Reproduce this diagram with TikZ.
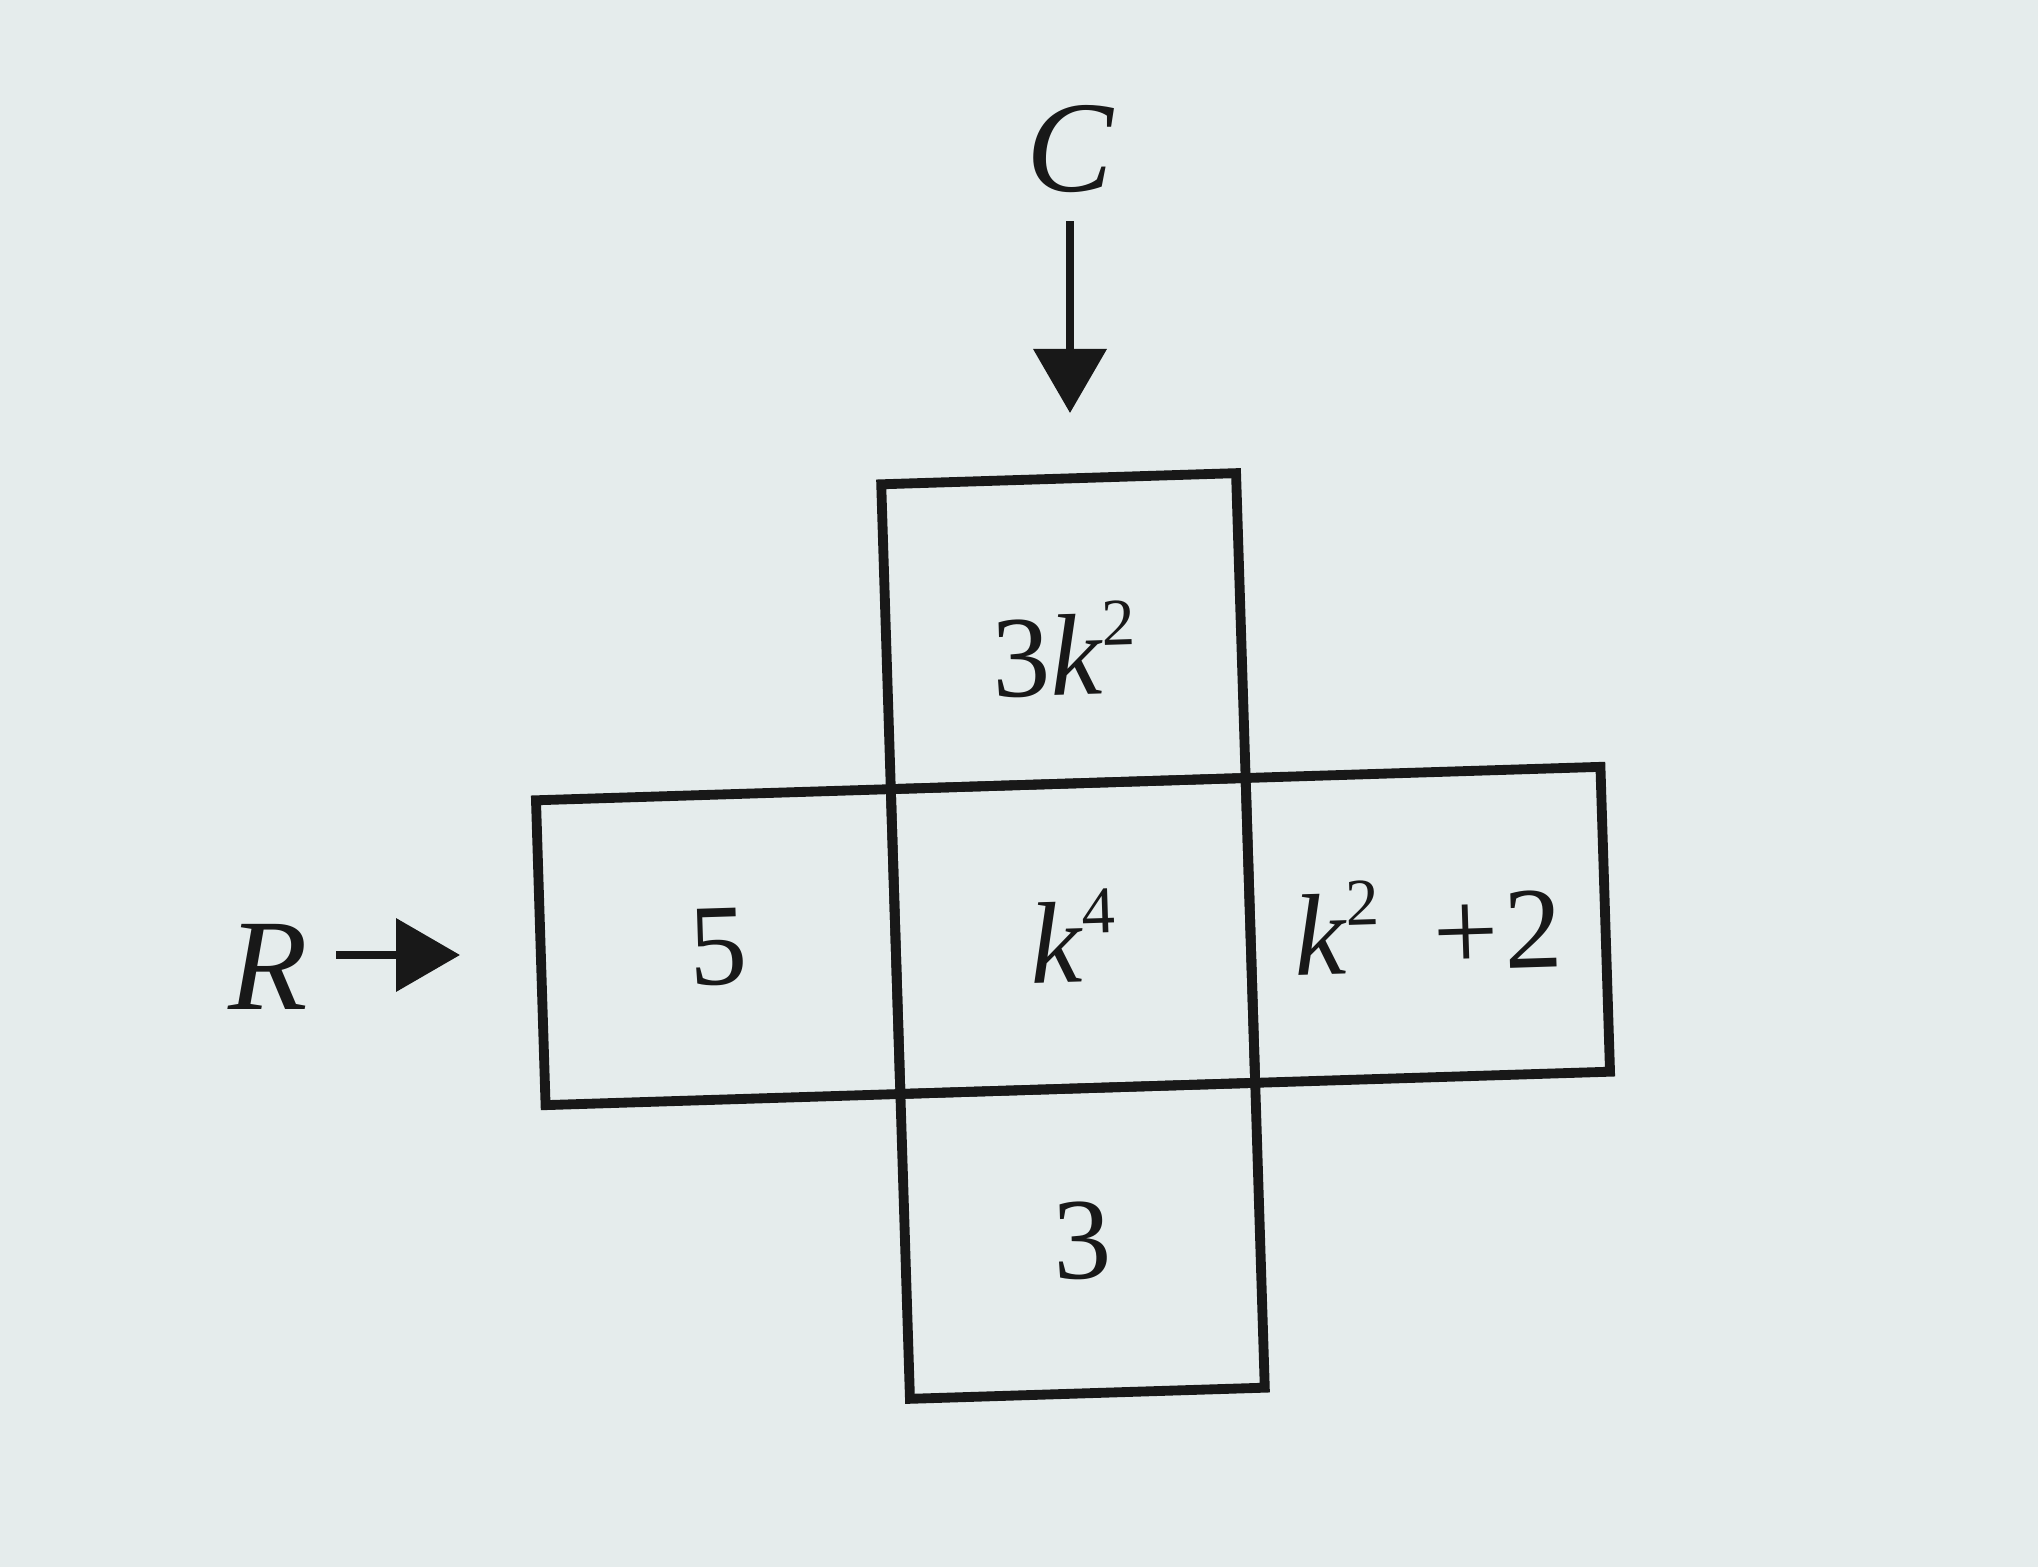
\documentclass[tikz,border=0pt]{standalone}
\usepackage{fontspec}
\setmainfont{Liberation Serif}
\usetikzlibrary{arrows.meta}

\definecolor{paper}{RGB}{229,236,236}
\definecolor{ink}{RGB}{24,24,24}

\newcommand{\kk}{\textit{k}}
\newcommand{\pw}[1]{\raisebox{0.42em}{\fontsize{19}{19}\selectfont #1}}

\begin{document}
\begin{tikzpicture}[
    cell/.style={draw=ink, line width=2.8pt, minimum width=3.55cm, minimum height=3.05cm, inner sep=0pt, text=ink, font=\fontsize{33}{38}\selectfont},
    lbl/.style={inner sep=0.28cm, text=ink},
    pointer/.style={draw=ink, line width=2.1pt, -{Triangle[length=0.64cm,width=0.72cm]}},
    font=\fontsize{37}{42}\selectfont]
        \fill[paper] (0,0) rectangle (20.38,15.67);
%
        \begin{scope}[shift={(10.73,6.31)}, rotate=1.8, transform shape]
        \node[cell] (K4) at (0,0)     {\kk\pw{4}};
        \node[cell] (F5) at (-3.55,0) {5};
        \node[cell] (K2) at (3.55,0)  {\kk\pw{2}\hspace{0.45em}+\hspace{0.05em}2};
        \node[cell] (TK) at (0,3.05)  {\raisebox{-0.55em}[0pt][0pt]{3\kk\pw{2}}};
        \node[cell] (T3) at (0,-3.05) {3};
        \end{scope}
%
        \node[lbl] (C) at (10.70,14.18) {\textit{C}};
        \node[lbl] (R) at (2.68,6.00)   {\textit{R}};
        \coordinate (Ctip) at (10.70,11.54);
        \coordinate (Rtip) at (4.60,6.12);
%
        \draw[pointer] (C) -- (Ctip);
        \draw[pointer] (R.east |- Rtip) -- (Rtip);
      \end{tikzpicture}
\end{document}
